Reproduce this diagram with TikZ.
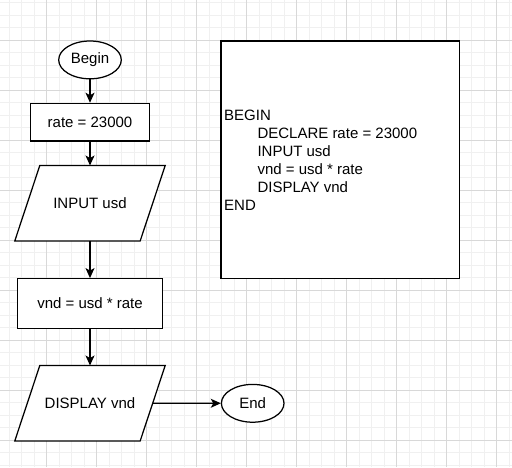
\documentclass[tikz,border=0pt]{standalone}
\usepackage{fontspec}
\setmainfont{Liberation Sans}
\usetikzlibrary{shapes.geometric,arrows.meta}
\definecolor{gridminor}{HTML}{F0F0F0}
\definecolor{gridmajor}{HTML}{D8D8D8}
\tikzset{
  shapeline/.style={draw=black, line width=1.25pt},
  term/.style={shapeline, ellipse, fill=white, inner sep=0pt, minimum width=62.6pt, minimum height=37.8pt, font=\fontsize{15}{18}\selectfont},
  proc/.style={shapeline, rectangle, fill=white, inner sep=0pt, font=\fontsize{15}{18}\selectfont},
  io/.style={rectangle, inner sep=0pt, minimum width=125pt, minimum height=75pt, font=\fontsize{15}{18}\selectfont},
  flow/.style={draw=black, line width=1.25pt, -{Stealth[length=10pt,width=9pt,inset=2.5pt]}},
  codeline/.style={anchor=base west, inner sep=0pt, font=\fontsize{15}{18}\selectfont},
}
\begin{document}
\begin{tikzpicture}[x=1pt,y=-1pt]
\useasboundingbox (0,0) rectangle (512,467);
\fill[white] (0,0) rectangle (512,467);
% grid
\foreach \i in {0,...,41} {
  \draw[gridminor, line width=1pt] ({-3.3+12.5*\i},0) -- ({-3.3+12.5*\i},467);
}
\foreach \i in {0,...,37} {
  \draw[gridminor, line width=1pt] (0,{2.5+12.5*\i}) -- (512,{2.5+12.5*\i});
}
\foreach \i in {1,...,10} {
  \draw[gridmajor, line width=1pt] ({-3.3+50*\i},0) -- ({-3.3+50*\i},467);
}
\foreach \i in {0,...,8} {
  \draw[gridmajor, line width=1pt] (0,{40+50*\i}) -- (512,{40+50*\i});
}
% flowchart nodes
\node[term] (begin) at (90,59.9) {Begin};
\node[proc, minimum width=118.6pt, minimum height=37.7pt] (rate) at (90,122.2) {rate = 23000};
\node[io] (in) at (90,203.2) {};
\node[proc, minimum width=144.6pt, minimum height=49.6pt] (vnd) at (90,303.5) {vnd = usd * rate};
\node[io] (disp) at (90,403.2) {};
\node[term] (end) at (252.7,403.3) {End};
\foreach \n in {in,disp} {
  \draw[shapeline, fill=white, line join=miter] ([xshift=12.5pt]\n.north west) -- ([xshift=12.5pt]\n.north east)
    -- ([xshift=-12.5pt]\n.south east) -- ([xshift=-12.5pt]\n.south west) -- cycle;
}
\node[io] at (in.center) {INPUT usd};
\node[io] at (disp.center) {DISPLAY vnd};
% connectors
\draw[flow] (begin) -- (rate);
\draw[flow] (rate) -- (in.north);
\draw[flow] (in.south) -- (vnd);
\draw[flow] (vnd) -- (disp.north);
\draw[flow] (disp.east) -- (end);
% pseudocode box
\node[proc, minimum width=238.3pt, minimum height=237.3pt] (codebox) at (340.2,159.7) {};
\node[codeline] (c1) at (224,120.5) {BEGIN};
\node[codeline] (c2) at (257.3,138.5) {DECLARE rate = 23000};
\node[codeline] (c3) at (257.3,156.5) {INPUT usd};
\node[codeline] (c4) at (257.3,174.5) {vnd = usd * rate};
\node[codeline] (c5) at (257.3,192.5) {DISPLAY vnd};
\node[codeline] (c6) at (224,210.5) {END};
\end{tikzpicture}
\end{document}
